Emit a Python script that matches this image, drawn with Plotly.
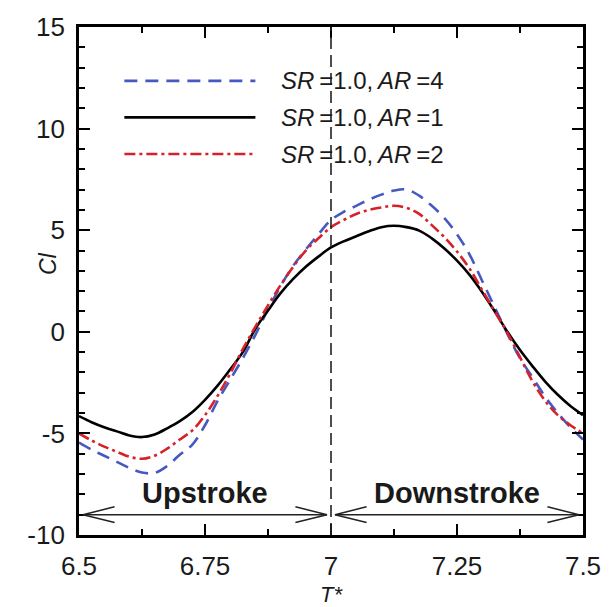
import plotly.graph_objects as go

# ---- data ----
t_star = [6.5 + 0.025 * i for i in range(41)]

cl_ar1 = [-4.15, -4.45, -4.70, -4.90, -5.10, -5.18, -5.05, -4.75, -4.40, -3.95,
          -3.35, -2.65, -1.85, -1.00, 0.15, 1.05, 1.90, 2.60, 3.20, 3.70,
          4.15, 4.45, 4.70, 4.95, 5.15, 5.22, 5.15, 4.98, 4.60, 4.10,
          3.50, 2.80, 1.95, 1.00, 0.00, -0.90, -1.70, -2.45, -3.10, -3.65,
          -4.10]

cl_ar2 = [-5.00, -5.35, -5.65, -5.90, -6.15, -6.25, -6.10, -5.75, -5.30, -4.85,
          -4.10, -3.15, -2.05, -0.85, 0.25, 1.30, 2.30, 3.20, 4.00, 4.60,
          5.15, 5.50, 5.80, 6.00, 6.12, 6.20, 6.10, 5.80, 5.25, 4.65,
          3.95, 3.10, 2.05, 1.00, -0.05, -1.25, -2.45, -3.40, -4.10, -4.60,
          -5.00]

cl_ar4 = [-5.45, -5.80, -6.10, -6.40, -6.70, -6.92, -6.95, -6.60, -6.05, -5.55,
          -4.60, -3.40, -2.35, -1.30, -0.15, 1.10, 2.25, 3.25, 4.05, 4.80,
          5.50, 5.90, 6.20, 6.50, 6.75, 6.95, 7.00, 6.70, 6.20, 5.60,
          4.80, 3.80, 2.50, 1.20, -0.10, -1.30, -2.25, -3.20, -4.00, -4.70,
          -5.30]

series_names = ["<i>SR</i>\u2009=1.0,\u2009<i>AR</i>\u2009=4",
                "<i>SR</i>\u2009=1.0,\u2009<i>AR</i>\u2009=1",
                "<i>SR</i>\u2009=1.0,\u2009<i>AR</i>\u2009=2"]

x_tick_vals = [6.5, 6.75, 7.0, 7.25, 7.5]
x_tick_text = ["6.5", "6.75", "7", "7.25", "7.5"]
y_tick_vals = [-10, -5, 0, 5, 10, 15]
y_tick_text = ["-10", "-5", "0", "5", "10", "15"]

stroke_phases = [(6.5, 7.0, "Upstroke"), (7.0, 7.5, "Downstroke")]
arrow_level = -9.0
phase_divider = 7.0

FONT = "Liberation Sans, Arial, Helvetica, sans-serif"
BLUE = "#4659c0"
RED = "#d8202a"

fig = go.Figure()
fig.add_trace(go.Scatter(x=t_star, y=cl_ar4, mode="lines", line=dict(color=BLUE, width=2.6, dash="13px,8px"),
                         line_shape="spline", name=series_names[0], showlegend=False))
fig.add_trace(go.Scatter(x=t_star, y=cl_ar1, mode="lines", line=dict(color="black", width=2.6),
                         line_shape="spline", name=series_names[1], showlegend=False))
fig.add_trace(go.Scatter(x=t_star, y=cl_ar2, mode="lines", line=dict(color=RED, width=2.6, dash="11px,4px,3px,4px"),
                         line_shape="spline", name=series_names[2], showlegend=False))

shapes = []
annotations = []

# vertical divider
shapes.append(dict(type="line", xref="x", yref="paper", x0=phase_divider, x1=phase_divider, y0=0, y1=1,
                   line=dict(color="#222", width=1.6, dash="12px,6px")))

# stroke arrows
hx = 32 / 511.0
hy = 0.39
pad = 0.008
for (a, b, label) in stroke_phases:
    xa, xb = a + pad, b - pad
    shapes.append(dict(type="line", xref="x", yref="y", x0=xa, x1=xb, y0=arrow_level, y1=arrow_level,
                       line=dict(color="#222", width=1.5)))
    shapes.append(dict(type="path", xref="x", yref="y",
                       path=f"M {xa+hx},{arrow_level+hy} L {xa},{arrow_level} L {xa+hx},{arrow_level-hy}",
                       line=dict(color="#222", width=1.5)))
    shapes.append(dict(type="path", xref="x", yref="y",
                       path=f"M {xb-hx},{arrow_level+hy} L {xb},{arrow_level} L {xb-hx},{arrow_level-hy}",
                       line=dict(color="#222", width=1.5)))
    annotations.append(dict(x=(a + b) / 2, y=-7.95, xref="x", yref="y", text=f"<b>{label}</b>",
                            showarrow=False, font=dict(family=FONT, size=29, color="#1a1a1a"),
                            xanchor="center", yanchor="middle"))

# legend (manual)
leg_y = [0.894, 0.822, 0.750]
leg_styles = [dict(color=BLUE, width=2.6, dash="13px,8px"),
              dict(color="black", width=2.6),
              dict(color=RED, width=2.6, dash="11px,4px,3px,4px")]
for yy, st, nm in zip(leg_y, leg_styles, series_names):
    shapes.append(dict(type="line", xref="paper", yref="paper", x0=0.09, x1=0.35, y0=yy, y1=yy, line=st))
    annotations.append(dict(x=0.397, y=yy, xref="paper", yref="paper", text=nm, showarrow=False,
                            xanchor="left", yanchor="middle", font=dict(family=FONT, size=24, color="#1a1a1a")))

# axis titles
annotations.append(dict(x=-0.062, y=0.535, xref="paper", yref="paper", text="<i>Cl</i>", showarrow=False,
                        textangle=-90, font=dict(family=FONT, size=23, color="#1a1a1a"),
                        xanchor="center", yanchor="middle"))
annotations.append(dict(x=0.5, y=-0.117, xref="paper", yref="paper", text="<i>T*</i>", showarrow=False,
                        font=dict(family=FONT, size=22, color="#1a1a1a"), xanchor="center", yanchor="middle"))

axis_common = dict(showgrid=False, zeroline=False, showline=True, linecolor="black", linewidth=2.8,
                   mirror="ticks", ticks="inside", tickcolor="black", tickwidth=2,
                   tickfont=dict(family=FONT, size=26, color="#1a1a1a"))

fig.update_layout(
    width=613, height=607,
    margin=dict(l=79, r=23, t=24, b=72),
    paper_bgcolor="white", plot_bgcolor="white",
    xaxis=dict(range=[6.5, 7.5], tickvals=x_tick_vals, ticktext=x_tick_text, ticklen=11,
               minor=dict(dtick=0.125, tick0=6.5, ticks="inside", ticklen=6, tickwidth=1.5, tickcolor="black"),
               ticklabelstandoff=6, **axis_common),
    yaxis=dict(range=[-10, 15], tickvals=y_tick_vals, ticktext=y_tick_text, ticklen=11,
               minor=dict(dtick=1, tick0=0, ticks="inside", ticklen=6, tickwidth=1.5, tickcolor="black"),
               ticklabelstandoff=6, **axis_common),
    shapes=shapes, annotations=annotations, showlegend=False,
)

fig.write_html("out.html", config={"displayModeBar": False},
               post_script="document.body.style.margin='0';document.body.style.overflow='hidden';")
